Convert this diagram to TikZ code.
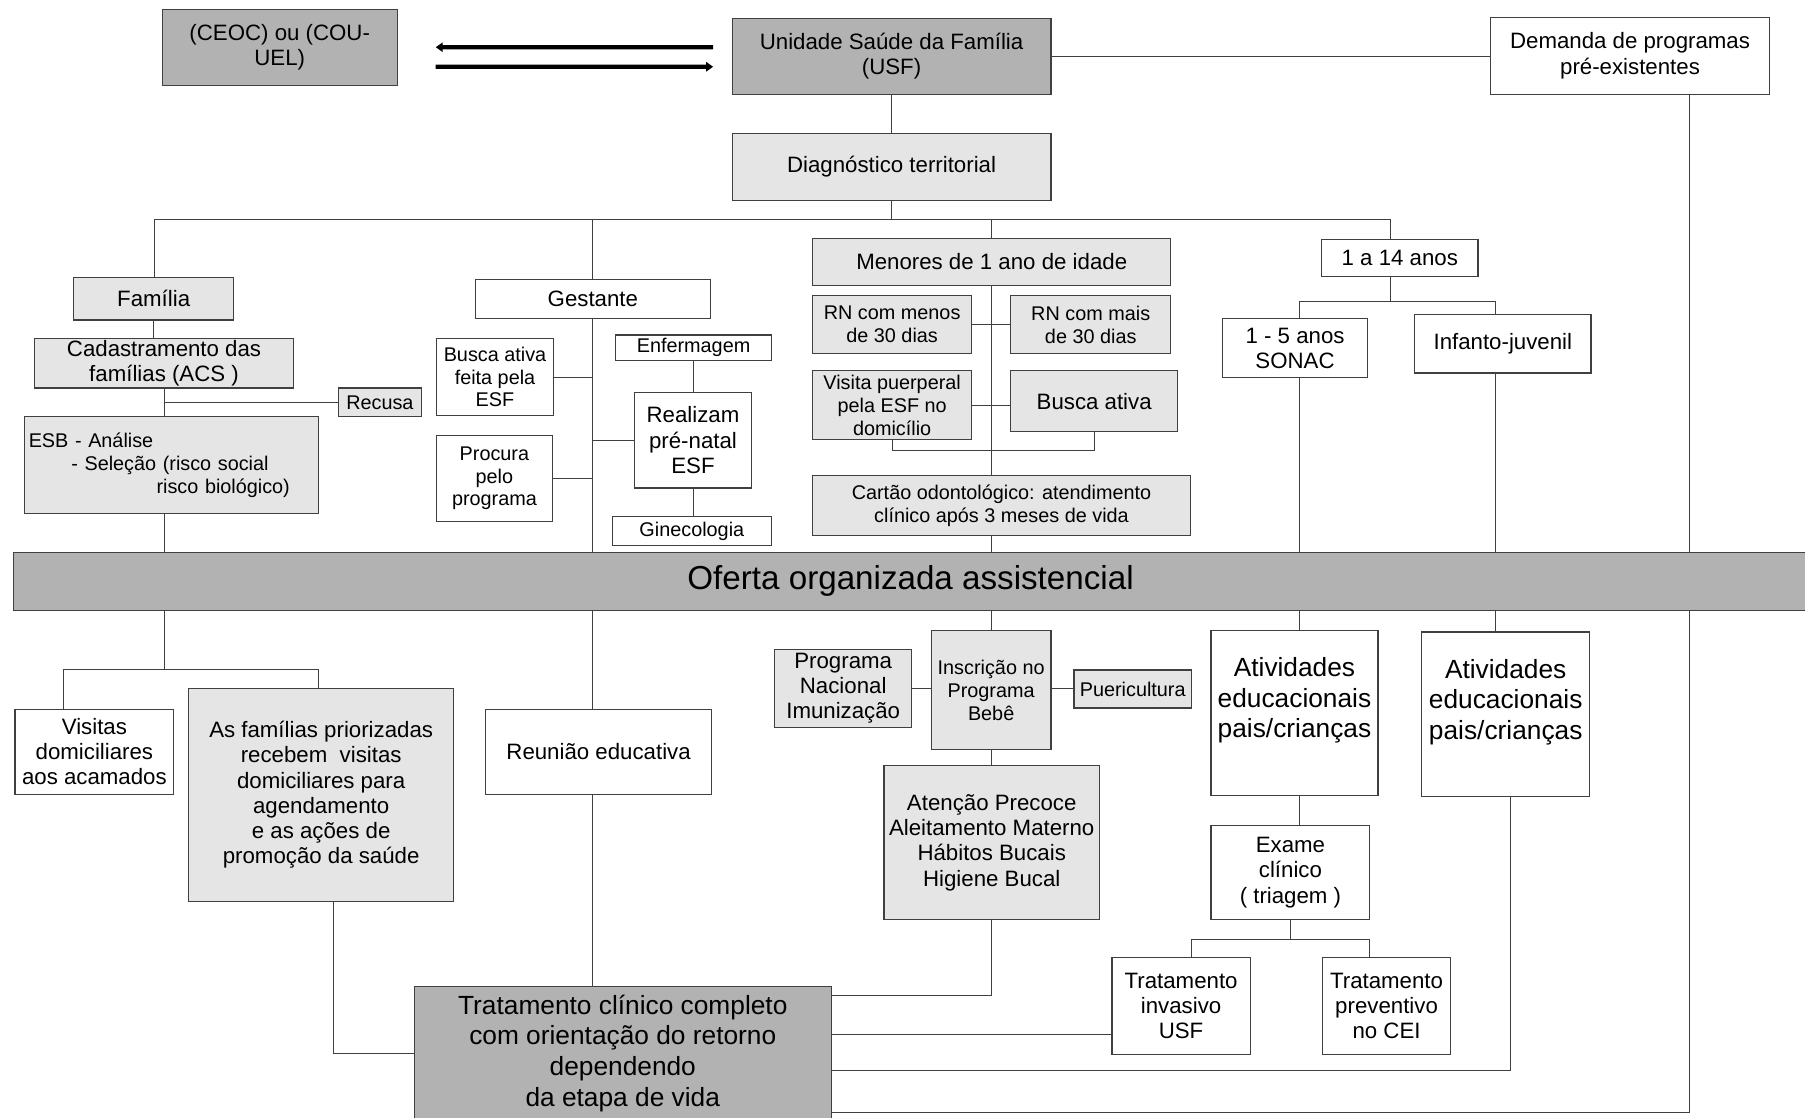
\documentclass[tikz,border=0pt]{standalone}
\usepackage{fontspec}
\setmainfont{Liberation Sans}
\usetikzlibrary{arrows.meta}
\pgfdeclarelayer{bg}
\pgfsetlayers{bg,main}
\newcommand{\txtsm}{\fontsize{9.8}{11.3}\selectfont}
\newcommand{\txtnr}{\fontsize{11}{12.5}\selectfont}
\newcommand{\txtlg}{\fontsize{13}{15.1}\selectfont}
\newcommand{\txthg}{\fontsize{16.4}{19}\selectfont}
\definecolor{darkbox}{gray}{0.70}
\definecolor{lightbox}{gray}{0.90}
\definecolor{edge}{gray}{0.25}
\tikzset{
  box/.style={draw=edge, line width=0.6pt, inner sep=0pt, align=center, font=\txtnr},
  dbox/.style={box, fill=darkbox},
  lbox/.style={box, fill=lightbox},
  wbox/.style={box, fill=white},
  sz/.style 2 args={minimum width=#1*0.2mm, minimum height=#2*0.2mm},
  link/.style={draw=edge, line width=0.5pt},
  fat/.style={line width=0.75mm, -{Triangle[length=1.2mm,width=1.6mm]}}
}

\begin{document}
\begin{tikzpicture}[x=0.2mm,y=-0.2mm]
\useasboundingbox (0,0) rectangle (1568,971);

\node[dbox, sz={204}{66}] (ceoc) at (243,41) {(CEOC) ou (COU-\\UEL)};
\node[dbox, sz={277}{66}] (usf) at (774.5,49) {Unidade Saúde da Família\\(USF)};
\node[wbox, sz={242}{67}] (dem) at (1416,48.5) {Demanda de programas\\pré-existentes};
\node[lbox, sz={277}{58}] (diag) at (774.5,145) {Diagnóstico territorial};

\node[lbox, sz={139}{37}] (fam) at (133.5,259.5) {Família};
\node[lbox, sz={225}{43}] (cad) at (142.5,315.5) {Cadastramento das\\famílias (ACS )};
\node[lbox, sz={72}{25}, font=\txtsm] (rec) at (330,349.5) {Recusa};
\node[lbox, sz={256}{84}, font=\txtsm, align=left, text width=49.6mm] (esb) at (149,404)
  {ESB - Análise\\\hspace*{7.4mm}- Seleção (risco social\\\hspace*{22.2mm}risco biológico)};

\node[wbox, sz={204}{34}] (ges) at (515,260) {Gestante};
\node[wbox, sz={102}{67}, font=\txtsm] (bus) at (430,327.5) {Busca ativa\\feita pela\\ESF};
\node[wbox, sz={101}{75}, font=\txtsm] (pro) at (429.5,415.5) {Procura\\pelo\\programa};
\node[wbox, sz={102}{83}] (rea) at (602,382.5) {Realizam\\pré-natal\\ESF};
\node[wbox, sz={135}{22}, font=\txtsm] (enf) at (602.5,302) {Enfermagem};
\node[wbox, sz={138}{25}, font=\txtsm] (gin) at (601,461.5) {Ginecologia};

\node[lbox, sz={311}{41}] (men) at (861.5,227.5) {Menores de 1 ano de idade};
\node[lbox, sz={138}{50}, font=\txtsm] (rnm) at (775,282) {RN com menos\\de 30 dias};
\node[lbox, sz={139}{50}, font=\txtsm] (rnp) at (947.5,282) {RN com mais\\de 30 dias};
\node[lbox, sz={138}{60}, font=\txtsm] (vis) at (775,352) {Visita puerperal\\pela ESF no\\domicílio};
\node[lbox, sz={145}{53}] (bat) at (950.5,348.5) {Busca ativa};
\node[lbox, sz={328}{52}, font=\txtsm] (car) at (870,439) {Cartão odontológico: atendimento\\clínico após 3 meses de vida};

\node[wbox, sz={136}{32}] (ano) at (1216,224) {1 a 14 anos};
\node[wbox, sz={126}{51}] (son) at (1125,302.5) {1 - 5 anos\\SONAC};
\node[wbox, sz={153}{51}] (inf) at (1305.5,298.5) {Infanto-juvenil};

\node[dbox, sz={1558}{50}, font=\txthg] (ofe) at (791,505) {Oferta organizada assistencial};

\node[wbox, sz={138}{74}] (vac) at (82,653) {Visitas\\domiciliares\\aos acamados};
\node[lbox, sz={230}{185}] (fpr) at (279,690.5) {As famílias priorizadas\\recebem\ \ visitas\\domiciliares para\\agendamento\\e as ações de\\promoção da saúde};
\node[wbox, sz={196}{74}] (reu) at (520,653) {Reunião educativa};
\node[dbox, sz={362}{116}, font=\txtlg] (tra) at (541,915) {Tratamento clínico completo\\com orientação do retorno\\dependendo\\da etapa de vida};

\node[lbox, sz={119}{68}] (pni) at (732.5,598) {Programa\\Nacional\\Imunização};
\node[lbox, sz={104}{103}, font=\txtsm] (ins) at (861,599.5) {Inscrição no\\Programa\\Bebê};
\node[lbox, sz={102}{33}, font=\txtsm] (pue) at (984,598.5) {Puericultura};
\node[lbox, sz={187}{134}] (ate) at (861.5,732) {Atenção Precoce\\Aleitamento Materno\\Hábitos Bucais\\Higiene Bucal};

\node[wbox, sz={145}{143}, font=\txtlg] (at1) at (1124.5,619.5) {Atividades\\educacionais\\pais/crianças\\\mbox{}};
\node[wbox, sz={146}{143}, font=\txtlg] (at2) at (1308,620.5) {Atividades\\educacionais\\pais/crianças\\\mbox{}};
\node[wbox, sz={138}{82}] (exa) at (1121,758) {Exame\\clínico\\( triagem )};
\node[wbox, sz={120}{84}] (tin) at (1026,874) {Tratamento\\invasivo\\USF};
\node[wbox, sz={111}{84}] (tpr) at (1204.5,874) {Tratamento\\preventivo\\no CEI};

\coordinate (t1) at (134,191);
\coordinate (t4) at (1208,191);
\coordinate (v1) at (775,391);
\coordinate (a1) at (1129,262);
\coordinate (a2) at (1299,262);
\coordinate (f1) at (55,582);
\coordinate (f2) at (277,582);
\coordinate (e1) at (1035,816);
\coordinate (e2) at (1190,816);
\coordinate (r1) at (861,865);
\coordinate (r2) at (966,899);
\coordinate (r3) at (1312,930);
\coordinate (r4) at (1468,966);

\begin{pgfonlayer}{bg}
\draw[link] (usf) -- (diag |- t1);
\draw[link] (usf) -- (usf -| dem);
\draw[link] (t1 |- fam.north) -- (t1) -- (t4) -- (t4 |- a1);
\draw[link] (ges) -- (ges |- t1);
\draw[link] (men) -- (men |- t1);

\draw[link] (fam) -- (fam |- cad);
\draw[link] (cad) -- (cad |- f1);
\draw[link] (rec) -- (rec -| cad);
\draw[link] (f1 |- vac.north) -- (f1) -- (f2) -- (f2 |- fpr.north);
\draw[link] ([xshift=2.2mm]fpr.south) |- (tra.west);

\draw[link] (ges) -- (ges |- tra.north);
\draw[link] (bus) -- (bus -| ges);
\draw[link] (pro) -- (pro -| ges);
\draw[link] (rea) -- (rea -| ges);
\draw[link] (enf) -- (enf |- gin);

\draw[link] (men) -- (men |- ins);
\draw[link] (rnm) -- (rnp);
\draw[link] (vis) -- (vis -| bat);
\draw[link] (vis) -- (v1) -| (bat);
\draw[link] (pni) -- (pni -| pue);
\draw[link] (ins) -- (ins |- r1) -- (tra.east |- r1);

\draw[link] (a1 |- exa.north) -- (a1) -- (a2) -- (a2 |- at2.north);
\draw[link] (exa) -- (exa |- e1);
\draw[link] (e1 |- tin.north) -- (e1) -- (e2) -- (e2 |- tpr.north);
\draw[link] (tin.west |- r2) -- (tra.east |- r2);
\draw[link] (r3 |- at2.south) -- (r3) -- (tra.east |- r3);
\draw[link] (r4 |- dem.south) -- (r4) -- (tra.east |- r4);
\end{pgfonlayer}

\draw[fat, shorten <=3.2mm, shorten >=6.6mm] ([yshift=1.6mm]usf.west) -- (ceoc.east);
\draw[fat, shorten <=6.6mm, shorten >=3.2mm] ([yshift=-3.4mm]ceoc.east) -- ([yshift=-1.8mm]usf.west);
\end{tikzpicture}
\end{document}
